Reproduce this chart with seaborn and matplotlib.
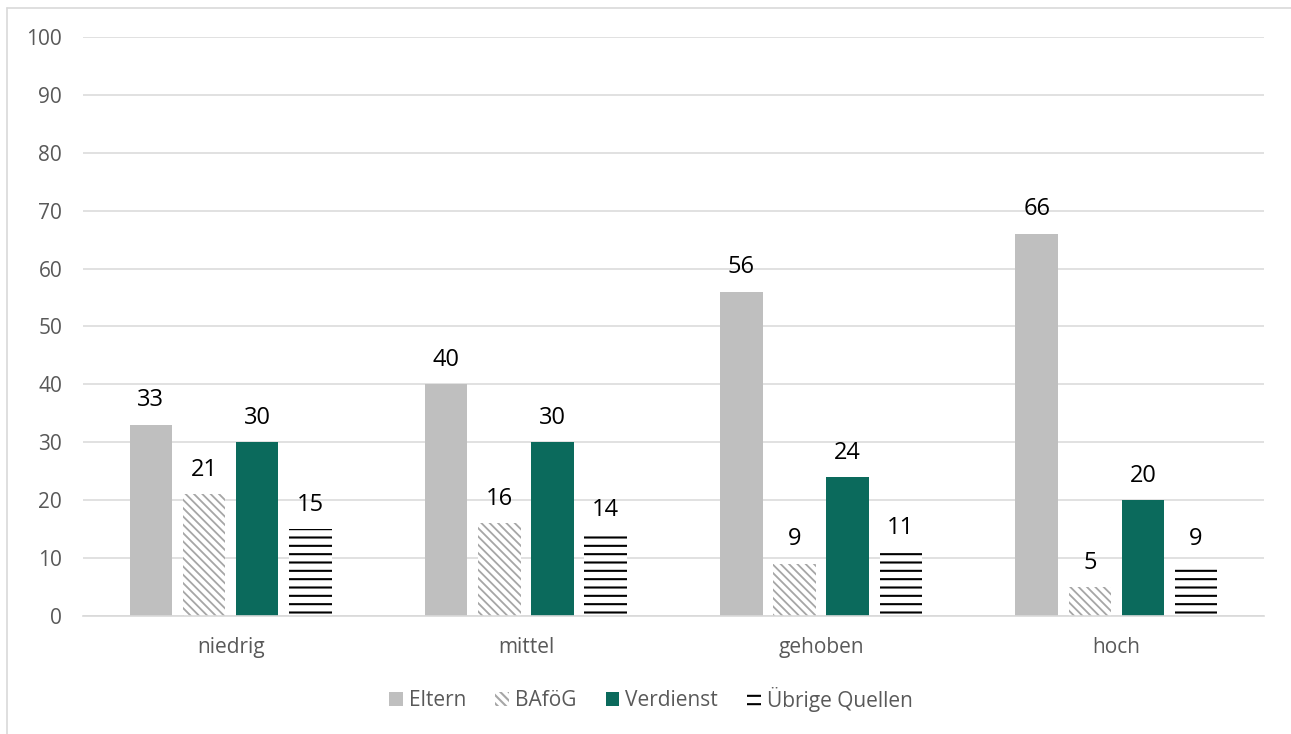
import matplotlib
matplotlib.use("Agg")
import matplotlib.pyplot as plt
import matplotlib.patches as mpatches
from matplotlib.lines import Line2D
import seaborn as sns
import pandas as pd

categories = ["niedrig", "mittel", "gehoben", "hoch"]
series = ["Eltern", "BAföG", "Verdienst", "Übrige Quellen"]
eltern = [33, 40, 56, 66]
bafoeg = [21, 16, 9, 5]
verdienst = [30, 30, 24, 20]
uebrige = [15, 14, 11, 9]
yticks = list(range(0, 101, 10))

values = {"Eltern": eltern, "BAföG": bafoeg, "Verdienst": verdienst, "Übrige Quellen": uebrige}
rows = []
for s in series:
    for c, v in zip(categories, values[s]):
        rows.append({"Kategorie": c, "Quelle": s, "Wert": v})
df = pd.DataFrame(rows)

sns.set_theme(style="white")
plt.rcParams["font.family"] = ["Open Sans", "DejaVu Sans"]
plt.rcParams["hatch.linewidth"] = 1.5

grey = "#bfbfbf"
green = "#0b6a5c"
palette = {"Eltern": grey, "BAföG": "white", "Verdienst": green, "Übrige Quellen": "white"}

fig = plt.figure(figsize=(12.91, 7.34), dpi=100)
ax = fig.add_axes([83 / 1291, 1 - 616 / 734, (1264 - 83) / 1291, (616 - 37) / 734])

sns.barplot(data=df, x="Kategorie", y="Wert", hue="Quelle", order=categories,
            hue_order=series, palette=palette, width=0.72, gap=0.2, saturation=1,
            linewidth=0, ax=ax, legend=False, errorbar=None)

styles = {
    "BAföG": dict(face="white", edge="#a6a6a6", hatch="\\\\\\\\", hlw=1.3),
    "Übrige Quellen": dict(face="white", edge="black", hatch="--", hlw=1.5),
}
for s, cont in zip(series, ax.containers):
    if s in styles:
        st = styles[s]
        for p in cont:
            p.set_facecolor(st["face"])
            p.set_edgecolor(st["edge"])
            p.set_hatch(st["hatch"])
            p.set_linewidth(0)
            if hasattr(p, "set_hatch_linewidth"):
                p.set_hatch_linewidth(st["hlw"])
    ax.bar_label(cont, labels=[str(int(v)) for v in values[s]], padding=9,
                 fontsize=17, color="black")

ax.set_ylim(0, 100)
ax.set_xlim(-0.5, 3.5)
ax.set_yticks(yticks)
ax.set_yticklabels([str(t) for t in yticks])
ax.yaxis.grid(True, color="#d9d9d9", linewidth=1.1)
ax.set_axisbelow(True)
for side in ["left", "right", "top"]:
    ax.spines[side].set_visible(False)
ax.spines["bottom"].set_color("#d9d9d9")
ax.spines["bottom"].set_linewidth(1.2)
ax.tick_params(axis="y", length=0, pad=15, labelsize=15, labelcolor="#595959")
ax.tick_params(axis="x", length=0, pad=15, labelsize=15, labelcolor="#595959")
ax.set_xlabel("")
ax.set_ylabel("")

handles = []
for s in series:
    if s in styles:
        st = styles[s]
        h = mpatches.Patch(facecolor=st["face"], edgecolor=st["edge"], hatch=st["hatch"], linewidth=0, label=s)
    else:
        h = mpatches.Patch(facecolor=palette[s], linewidth=0, label=s)
    handles.append(h)
leg = fig.legend(handles=handles, loc="center", bbox_to_anchor=(651 / 1291, 1 - 699 / 734),
                 ncol=4, frameon=False, fontsize=15, handlelength=0.65, handleheight=0.65,
                 handletextpad=0.3, columnspacing=1.4)
for t in leg.get_texts():
    t.set_color("#595959")

fig.add_artist(Line2D([7 / 1291, 7 / 1291], [0, 1 - 8 / 734], transform=fig.transFigure,
                      color="#d9d9d9", linewidth=1.2))
fig.add_artist(Line2D([7 / 1291, 1], [1 - 8 / 734, 1 - 8 / 734], transform=fig.transFigure,
                      color="#d9d9d9", linewidth=1.2))

fig.savefig("out.png", dpi=100, facecolor="white")
